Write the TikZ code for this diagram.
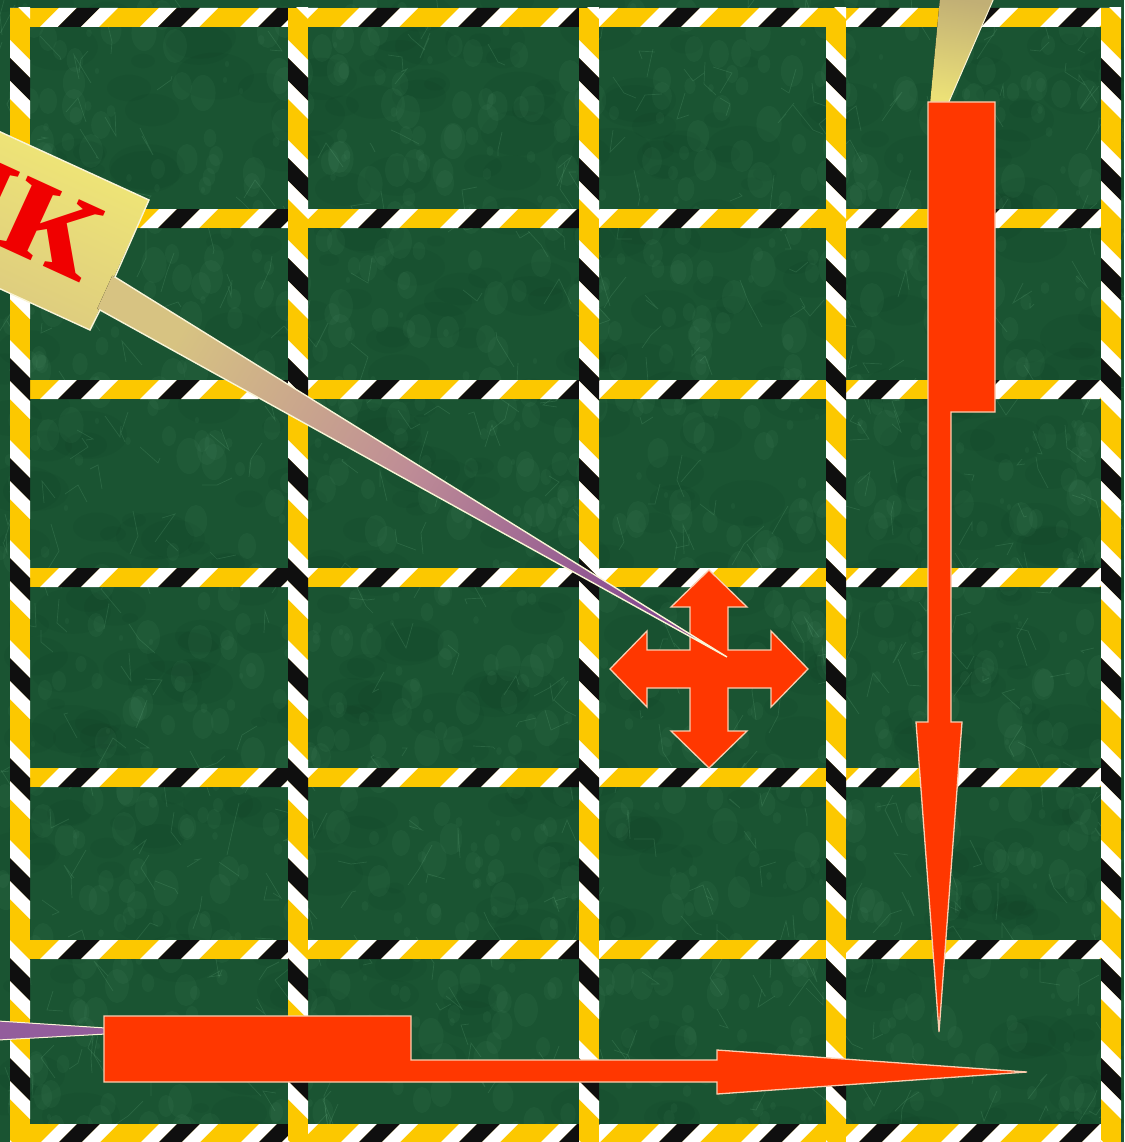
\documentclass[tikz,border=0pt]{standalone}
\usepackage{fontspec}
\newfontfamily\calloutfont{Liberation Serif}
\usetikzlibrary{calc}
\definecolor{marbledark}{RGB}{26,84,50}
\definecolor{marblelight}{RGB}{120,190,145}
\definecolor{marbleshadow}{RGB}{8,45,25}
\definecolor{bandyellow}{RGB}{252,200,0}
\definecolor{bandblack}{RGB}{15,15,15}
\definecolor{arrowred}{RGB}{255,55,0}
\definecolor{arrowedge}{RGB}{250,205,175}
\definecolor{calloutyellow}{RGB}{245,238,115}
\definecolor{callouttan}{RGB}{215,195,130}
\definecolor{calloutmauve}{RGB}{190,140,150}
\definecolor{calloutpurple}{RGB}{135,75,145}
\definecolor{calloutedge}{RGB}{250,245,215}
\definecolor{labelred}{RGB}{240,0,0}

% striped tape, horizontal: from x #1 to x #2, top edge at y #3
\newcommand{\hstripes}[3]{%
  \begin{scope}
    \clip (#1,#3) rectangle (#2,#3+19);
    \fill[bandyellow] (#1,#3) rectangle (#2,#3+19);
    \foreach \s in {-100,0,...,1200}{
      \fill[white] (\s+40,#3+19) -- ++(18,0) -- ++(19,-19) -- ++(-18,0) -- cycle;
      \fill[bandblack] (\s+58,#3+19) -- ++(23,0) -- ++(19,-19) -- ++(-23,0) -- cycle;
      \fill[white] (\s+81,#3+19) -- ++(18,0) -- ++(19,-19) -- ++(-18,0) -- cycle;
    }
  \end{scope}}
% striped tape, vertical: from y #1 to y #2, left edge at x #3
\newcommand{\vstripes}[3]{%
  \begin{scope}
    \clip (#3,#1) rectangle (#3+20,#2);
    \fill[bandyellow] (#3,#1) rectangle (#3+20,#2);
    \foreach \s in {-100,0,...,1200}{
      \fill[white] (#3,\s+40) -- ++(0,18) -- ++(20,20) -- ++(0,-18) -- cycle;
      \fill[bandblack] (#3,\s+58) -- ++(0,23) -- ++(20,20) -- ++(0,-23) -- cycle;
      \fill[white] (#3,\s+81) -- ++(0,18) -- ++(20,20) -- ++(0,-18) -- cycle;
    }
  \end{scope}}

\begin{document}
\begin{tikzpicture}[x=1pt, y=-1pt,
  arrowshape/.style={fill=arrowred, draw=arrowedge, line width=1.3pt},
  calloutlabel/.style={text=labelred, font=\calloutfont\bfseries\fontsize{165}{165}\selectfont,
    rotate=-24.6, anchor=base east, inner sep=0pt}]
  \useasboundingbox (0,0) rectangle (1124,1142);
  \clip (0,0) rectangle (1124,1142);

  % Marble floor
  \fill[marbledark] (0,0) rectangle (1124,1142);
  \pgfmathsetseed{11}
  \foreach \i in {1,...,500}{
    \pgfmathsetmacro{\bx}{random(0,1124)}
    \pgfmathsetmacro{\by}{random(0,1142)}
    \pgfmathsetmacro{\br}{random(8,40)}
    \fill[marbleshadow, opacity=0.07] (\bx,\by) ellipse ({\br} and {0.6*\br});
  }
  \foreach \i in {1,...,1200}{
    \pgfmathsetmacro{\bx}{random(0,1124)}
    \pgfmathsetmacro{\by}{random(0,1142)}
    \pgfmathsetmacro{\br}{random(3,18)}
    \fill[marblelight, opacity=0.06] (\bx,\by) ellipse ({0.7*\br} and {\br});
  }
  \foreach \i in {1,...,500}{
    \pgfmathsetmacro{\bx}{random(0,1124)}
    \pgfmathsetmacro{\by}{random(0,1142)}
    \pgfmathsetmacro{\dxa}{random(-20,20)}
    \pgfmathsetmacro{\dya}{random(-30,30)}
    \pgfmathsetmacro{\dxb}{random(-15,15)}
    \pgfmathsetmacro{\dyb}{random(-25,25)}
    \draw[marblelight, opacity=0.18, line width=0.7pt]
      (\bx,\by) -- ++(\dxa,\dya) -- ++(\dxb,\dyb);
  }

  % Tape grid
  \foreach \y in {8,209,380,568,768,940,1124}{\hstripes{10}{1121}{\y}}
  \foreach \x in {10,288,579,826,1101}{\vstripes{8}{1150}{\x}}

  % Callout stubs coming in from the edges
  \fill[top color=callouttan!90!black, bottom color=calloutyellow!70!callouttan, shading angle=-10]
    (940,-2) -- (994,-2) -- (948,104) -- (930,104) -- cycle;
  \draw[calloutedge, line width=1pt] (994,-2) -- (948,104);
  \fill[calloutpurple!90!white] (-2,1021) -- (106,1028) -- (106,1034) -- (-2,1040) -- cycle;
  \draw[calloutedge, line width=1pt] (-2,1021) -- (106,1028) (106,1034) -- (-2,1040);

  % Move cursor
  \begin{scope}[shift={(709,669)}]
    \draw[arrowshape] (0,-99) -- (38,-62) -- (19,-62) -- (19,-19) -- (62,-19) -- (62,-38)
      -- (99,0) -- (62,38) -- (62,19) -- (19,19) -- (19,62) -- (38,62) -- (0,99)
      -- (-38,62) -- (-19,62) -- (-19,19) -- (-62,19) -- (-62,38) -- (-99,0)
      -- (-62,-38) -- (-62,-19) -- (-19,-19) -- (-19,-62) -- (-38,-62) -- cycle;
  \end{scope}

  % Down arrow
  \draw[arrowshape] (928,102) -- (995,102) -- (995,412) -- (951,412) -- (951,722)
    -- (962,722) -- (939,1032) -- (916,722) -- (928,722) -- cycle;

  % Right arrow
  \draw[arrowshape] (104,1016) -- (411,1016) -- (411,1060) -- (717,1060) -- (717,1050)
    -- (1027,1072) -- (717,1094) -- (717,1082) -- (104,1082) -- cycle;

  % Pointer callout
  \coordinate (tl) at (-124,75);
  \coordinate (tr) at (149,200);
  \coordinate (br) at (90,330);
  \coordinate (bl) at (-183,205);
  \coordinate (w1) at (115,277);
  \coordinate (w2) at (100,310);
  \coordinate (tip) at (727,657);
  \fill[top color=calloutyellow, bottom color=callouttan, shading angle=-24.6]
    (tl) -- (tr) -- (br) -- (bl) -- cycle;
  \fill[top color=callouttan, bottom color=calloutpurple, middle color=calloutmauve, shading angle=59.5]
    (w1) -- (tip) -- (w2) -- ($(w2)!3pt!90:(w1)$) -- ($(w1)!3pt!-90:(w2)$) -- cycle;
  \draw[calloutedge, line width=1.4pt]
    (tl) -- (tr) -- (w1) -- (tip) -- (w2) -- (br) -- (bl) -- cycle;
  \node[calloutlabel] (pointerlabel) at (80,283) {ик};
\end{tikzpicture}
\end{document}
